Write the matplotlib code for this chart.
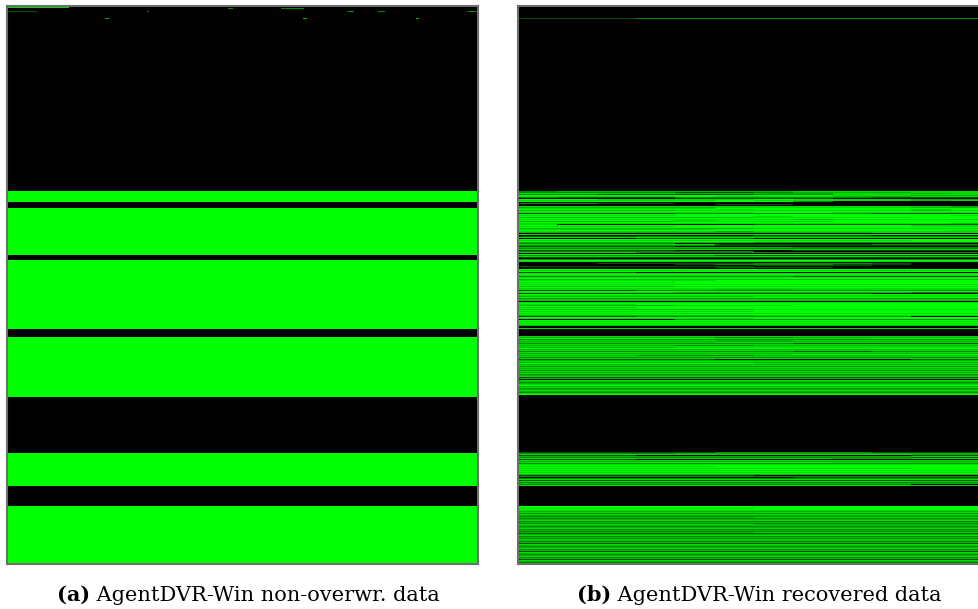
import numpy as np
import matplotlib
matplotlib.use('Agg')
import matplotlib.pyplot as plt
from matplotlib.colors import ListedColormap

# ── Raster data (rows are block rows, 0 = top) ──────────────
N_ROWS = 558
WIDTH_A = 471

# green levels: 0 empty .. 5 full intensity
LEVEL_COLORS = ['#000000', '#004e00', '#008a00', '#00b400', '#00dc00', '#00ff00']

# non-overwritten blocks: (first_row, last_row_exclusive)
nonoverwr_bands = [(185, 196), (202, 249), (254, 323), (331, 391), (447, 480), (500, 558)]
# stray blocks near the top: (row, col_start, col_end, level)
nonoverwr_specks = [(1, 0, 62, 4), (2, 221, 226, 2), (2, 274, 297, 2), (5, 0, 30, 1),
                    (5, 140, 142, 2), (5, 340, 347, 2), (5, 371, 378, 2), (5, 460, 470, 2),
                    (12, 98, 102, 3), (12, 296, 300, 3), (12, 409, 412, 3)]

# recovered blocks, one string per row, 12 column groups
recovered_top_line = (12, '111222222222')
recovered_upper_start = 185
recovered_upper = [
    '233333344444', '222211233344', '444433334434', '221111224444', '555555554433',
    '444454443344', '211122222111', '000011110000', '554444544433', '444445444434',
    '555555520000', '000000000000', '221100000000', '000001100000', '000000000000',
    '444444444443', '333334444433', '444445555555', '555554555545', '333344444434',
    '555555555555', '444444554444', '111122222111', '555555555555', '444455555554',
    '555555455555', '333333444455', '555555555555', '444444434444', '555545555555',
    '333344445555', '555555555555', '444444444443', '400000111111', '555555555544',
    '444455555544', '555555555555', '333333444444', '444445555555', '555555555554',
    '444443444444', '333333333444', '000000000000', '444444444555', '000000111000',
    '111222222222', '444444444444', '000111000000', '555555555555', '444444444455',
    '555555555555', '333333222222', '222200000000', '444441111222', '222221111111',
    '111100000000', '333333322222', '222222222222', '444444444444', '111100011111',
    '222222000000', '444222222222', '000000000000', '555555555555', '222221111111',
    '444444444444', '111111111111', '000000000000', '222222222222', '555555555555',
    '444444444444', '000000000000', '001111222100', '000012221100', '000000111000',
    '111111000000', '000001110000', '000000000000', '555555555555', '444444444444',
    '555555555555', '111000000000', '444444444444', '555555555555', '444444444444',
    '222222211111', '444444444444', '555555555555', '333333333333', '444445555555',
    '555555555555', '444455555555', '555555555555', '444444444444', '555555555555',
    '333344444444', '555555555555', '444444444444', '444443344444', '111222222222',
    '555555555555', '444433333322', '111111111000', '555555555555', '444444444444',
    '333333444444', '555555555555', '222222222222', '444444444444', '333333333333',
    '000000000000', '444444444444', '555555555555', '444555555555', '333344455555',
    '555555555555', '444555555555', '555555555555', '333333444444', '555555555555',
    '444444555555', '555555555555', '444444444444', '555555555555', '333333444444',
    '111222222200', '555555555555', '444444555555', '000022222222', '555555555555',
    '444444444444', '555555555555', '444444444444', '555555555555', '333333333333',
    '000000000000', '000000000000', '444444444444', '000000000000', '000000000000',
    '000000000000', '000000000000', '000000000000', '000000000000', '000000000000',
    '444444444444', '333332233333', '555554444555', '222222222222', '444443344444',
    '333333333333', '444444444444', '222222211111', '444444444444', '333322333333',
    '444444444444', '333344444444', '555555555555', '333333333333', '444444444444',
    '222222211222', '444444444444', '333333333333', '444444455555', '333222333333',
    '444444444444', '222222222222', '444444444444', '111110000011', '333333333333',
    '444444444444', '333333333333', '555555444444', '333333333333', '444444444444',
    '222222222222', '444444444444', '333333333333', '444444444444', '222222222222',
    '444444444444', '333333333333', '444444444444', '222222222222', '333333333333',
    '444444444444', '111111111111', '333333333333', '000000000000', '444444444444',
    '333333333333', '222222222222', '333333333333', '444444444444', '555555555555',
    '333333333333', '444444444444', '222222222222', '333333333333', '444444444444',
    '333333333333', '222222222222', '444444444444', '555555555555',
]

recovered_middle_start = 446
recovered_middle = [
    '111112222111', '222233333333', '444444444433', '111000000011', '333333333344',
    '222222222211', '444444443344', '111000000000', '444444444444', '333333333333',
    '444444444444', '222222222222', '444444444444', '555555555555', '444445555555',
    '555555555555', '444444444455', '555555555555', '444444444444', '555555555555',
    '444444444444', '555555555555', '333333333333', '111111000000', '222222222222',
    '000000011111', '222222222222', '444444444444', '111111111111', '444444444444',
    '222222222222', '333333333333', '222222222200', '444444444444',
]

recovered_lower_start = 500
recovered_lower = [
    '555555555555', '555555555555', '444444555555', '555555555555', '444444444444',
    '333333333333', '444444444444', '222222222222', '444444444444', '333333333333',
    '222222222222', '333333444444', '222222222222', '333333333333', '444444444444',
    '222222222222', '333333333333', '222222222222', '444444333333', '333333333333',
    '222222222222', '333333333333', '444444444444', '222222222222', '333333333333',
    '222222222222', '333333444444', '111111111111', '333333333333', '444444444444',
    '222222222222', '333333333333', '222222222222', '444444444444', '333333333333',
    '222222222222', '333333333333', '111111111111', '444444444444', '333333333333',
    '222222222222', '333333333333', '444444444444', '222222222222', '333333333333',
    '111111111111', '444444444444', '333333333333', '222222222222', '333333333333',
    '444444444444', '222222222222', '333333333333', '111111111111', '444444444444',
    '333333333333', '222222222222', '444444444444',
]

captions = [('(a)', ' AgentDVR-Win non-overwr. data'),
            ('(b)', ' AgentDVR-Win recovered data')]

# ── Build rasters ──────────────────────────────────────────
img_a = np.zeros((N_ROWS, WIDTH_A), dtype=int)
for r0, r1 in nonoverwr_bands:
    img_a[r0:r1, :] = 5
for row, c0, c1, lvl in nonoverwr_specks:
    img_a[row, c0:c1] = lvl

img_b = np.zeros((N_ROWS, 12), dtype=int)
img_b[recovered_top_line[0]] = [int(c) for c in recovered_top_line[1]]
for start, rows in [(recovered_upper_start, recovered_upper),
                    (recovered_middle_start, recovered_middle),
                    (recovered_lower_start, recovered_lower)]:
    for i, s in enumerate(rows):
        if start + i < N_ROWS:
            img_b[start + i] = [int(c) for c in s]

cmap = ListedColormap(LEVEL_COLORS)

# ── Figure ─────────────────────────────────────────────────
W, H = 979, 609
fig = plt.figure(figsize=(W / 100, H / 100), dpi=100)
fig.patch.set_facecolor('white')

panels = []
for left, img in [(7, img_a), (518, img_b)]:
    ax = fig.add_axes([left / W, (H - 564) / H, 471 / W, N_ROWS / H])
    ax.imshow(img, cmap=cmap, vmin=-0.5, vmax=5.5, aspect='auto',
              interpolation='nearest', extent=(0, 1, 1, 0))
    ax.set_xticks([])
    ax.set_yticks([])
    for sp in ax.spines.values():
        sp.set_color('#6e6e6e')
        sp.set_linewidth(1.5)
    panels.append(ax)

# captions: bold label + regular text, centred under each panel
fig.canvas.draw()
renderer = fig.canvas.get_renderer()
for ax, (label, text) in zip(panels, captions):
    cx = (ax.get_position().x0 + ax.get_position().x1) / 2 * W
    t1 = fig.text(0, 0, label, fontsize=15, fontweight='bold', family='DejaVu Serif',
                  va='baseline', transform=None)
    t2 = fig.text(0, 0, text, fontsize=15, family='DejaVu Serif',
                  va='baseline', transform=None)
    w1 = t1.get_window_extent(renderer).width
    w2 = t2.get_window_extent(renderer).width
    x0 = cx + 6 - (w1 + w2) / 2
    base = H - 601
    t1.set_position((x0, base))
    t2.set_position((x0 + w1, base))

plt.savefig('out.png', dpi=100, facecolor='white')
